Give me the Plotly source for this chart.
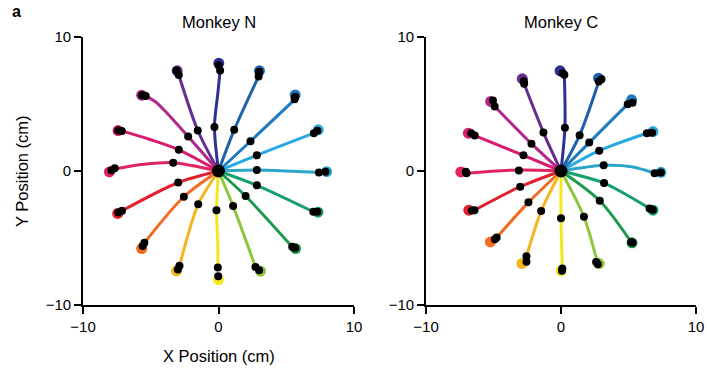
import plotly.graph_objects as go

# Reach directions, counter-clockwise from the +x axis (degrees)
directions = [0, 22.5, 45, 67.5, 90, 112.5, 135, 157.5,
              180, 202.5, 225, 247.5, 270, 292.5, 315, 337.5]

direction_colors = ["#2aa5cc", "#29a9e1", "#1f79bf", "#1d60ab",
                    "#2e3192", "#652d90", "#b1288a", "#d91a6f",
                    "#e0245d", "#e3202f", "#f26b21", "#f5b520",
                    "#f4e71c", "#8dc63f", "#1b9a4e", "#17a06d"]

# ---- Monkey N ----
n_path_x = [
    [0, 2.83, 5.5, 7.41],
    [0, 2.83, 7.04],
    [0, 2.36, 5.62],
    [0, 1.16, 2.96],
    [0, -0.30, -0.05, 0.12],
    [0, -1.53, -2.93],
    [0, -2.24, -3.79, -4.65, -5.37],
    [0, -2.93, -5.0, -7.14],
    [0, -3.34, -5.5, -7.66],
    [0, -2.97, -7.12],
    [0, -2.56, -5.47],
    [0, -1.50, -2.88],
    [0, -0.15, -0.05, -0.05],
    [0, 1.08, 2.73],
    [0, 2.00, 5.44],
    [0, 2.83, 7.00],
]
n_path_y = [
    [0, 0.07, -0.02, -0.12],
    [0, 1.17, 2.82],
    [0, 2.22, 5.33],
    [0, 3.07, 7.06],
    [0, 3.29, 5.8, 7.50],
    [0, 3.02, 7.16],
    [0, 2.57, 4.31, 5.17, 5.59],
    [0, 1.58, 2.33, 2.99],
    [0, 0.62, 0.50, 0.15],
    [0, -0.86, -2.97],
    [0, -1.92, -5.36],
    [0, -2.49, -7.08],
    [0, -2.92, -5.5, -7.20],
    [0, -2.62, -7.16],
    [0, -1.87, -5.66],
    [0, -1.07, -3.04],
]
n_target_x = [7.98, 7.36, 5.66, 3.02, 0.02, -3.05, -5.67, -7.41,
              -8.05, -7.44, -5.67, -3.10, 0.00, 3.10, 5.69, 7.34]
n_target_y = [-0.05, 3.07, 5.68, 7.48, 8.05, 7.48, 5.66, 3.02,
              -0.07, -3.17, -5.79, -7.46, -8.10, -7.48, -5.79, -3.07]
n_mid_x = [2.83, 2.83, 2.36, 1.16, -0.30, -1.53, -2.24, -2.93,
           -3.34, -2.97, -2.56, -1.50, -0.15, 1.08, 2.00, 2.83]
n_mid_y = [0.07, 1.17, 2.22, 3.07, 3.29, 3.02, 2.57, 1.58,
           0.62, -0.86, -1.92, -2.49, -2.92, -2.62, -1.87, -1.07]
n_end_x = [7.41, 7.90, 7.04, 7.30, 5.62, 5.66, 2.96, 3.00, 0.12, 0.00,
           -2.93, -3.10, -5.37, -5.65, -7.14, -7.40, -7.66, -7.90,
           -7.12, -7.40, -5.47, -5.60, -2.88, -3.00, -0.05, -0.02,
           2.73, 3.00, 5.44, 5.65, 7.00, 7.30]
n_end_y = [-0.12, -0.05, 2.82, 3.00, 5.35, 5.55, 7.06, 7.40, 7.50, 7.90,
           7.16, 7.50, 5.59, 5.65, 2.99, 3.02, 0.20, 0.05,
           -2.97, -3.10, -5.36, -5.60, -7.08, -7.35, -7.20, -7.86,
           -7.16, -7.40, -5.66, -5.75, -3.04, -3.05]

# ---- Monkey C ----
c_path_x = [
    [0, 3.16, 5.24, 6.21, 6.93],
    [0, 2.83, 6.36],
    [0, 2.09, 4.94],
    [0, 1.38, 2.80],
    [0, 0.29, 0.25],
    [0, -1.30, -2.73],
    [0, -2.19, -4.91],
    [0, -2.78, -6.39],
    [0, -3.12, -7.00],
    [0, -3.02, -6.41],
    [0, -2.41, -4.77],
    [0, -1.47, -2.56],
    [0, 0.00, 0.10],
    [0, 1.70, 2.73],
    [0, 2.87, 5.20],
    [0, 3.19, 6.56],
]
c_path_y = [
    [0, 0.42, 0.32, 0.07, -0.17],
    [0, 1.52, 2.82],
    [0, 2.12, 4.99],
    [0, 2.67, 6.68],
    [0, 3.22, 7.18],
    [0, 2.87, 6.51],
    [0, 2.04, 4.81],
    [0, 1.17, 2.64],
    [0, 0.08, -0.17],
    [0, -1.17, -2.92],
    [0, -2.34, -4.96],
    [0, -2.99, -6.36],
    [0, -3.52, -7.28],
    [0, -3.42, -6.96],
    [0, -2.22, -5.30],
    [0, -0.90, -2.79],
]
c_target_x = [7.40, 6.81, 5.23, 2.78, -0.07, -2.87, -5.21, -6.86,
              -7.42, -6.83, -5.23, -2.90, 0.00, 2.83, 5.26, 6.81]
c_target_y = [-0.10, 2.94, 5.31, 6.93, 7.48, 6.88, 5.19, 2.82,
              -0.07, -2.92, -5.29, -6.91, -7.46, -6.91, -5.36, -2.92]
c_mid_x = [3.16, 2.83, 2.09, 1.38, 0.29, -1.30, -2.19, -2.78,
           -3.12, -3.02, -2.41, -1.47, 0.00, 1.70, 2.87, 3.19]
c_mid_y = [0.42, 1.52, 2.12, 2.67, 3.22, 2.87, 2.04, 1.17,
           0.04, -1.17, -2.34, -2.99, -3.52, -3.42, -2.22, -0.90]
c_end_x = [6.93, 7.40, 6.36, 6.75, 4.94, 5.30, 2.80, 3.00, 0.25, 0.12,
           -2.73, -2.75, -4.91, -5.04, -6.39, -6.65, -7.00, -7.05,
           -6.41, -6.60, -4.77, -4.90, -2.56, -2.56, 0.10, 0.07,
           2.73, 2.60, 5.20, 5.30, 6.56, 6.80]
c_end_y = [-0.17, -0.12, 2.82, 2.85, 4.99, 5.10, 6.68, 6.85, 7.18, 7.30,
           6.51, 6.70, 4.81, 5.26, 2.64, 2.82, -0.17, -0.05,
           -2.92, -2.95, -4.96, -5.10, -6.36, -6.78, -7.28, -7.45,
           -6.96, -6.80, -5.30, -5.36, -2.79, -2.90]

tick_vals = [-10, 0, 10]
tick_text = ["\u221210", "0", "10"]

FONT = "Liberation Sans, Arial, Helvetica, sans-serif"

fig = go.Figure()


def add_monkey(xa, ya, path_x, path_y, tx, ty, mx, my, ex, ey):
    # colored target circles
    for k in range(len(directions)):
        fig.add_trace(go.Scatter(
            x=[tx[k]], y=[ty[k]], mode="markers", xaxis=xa, yaxis=ya,
            marker=dict(size=11, color=direction_colors[k], line=dict(width=0)),
            hoverinfo="skip", showlegend=False))
    # hand trajectories
    for k in range(len(directions)):
        fig.add_trace(go.Scatter(
            x=path_x[k], y=path_y[k], mode="lines", xaxis=xa, yaxis=ya,
            line=dict(color=direction_colors[k], width=3, shape="spline",
                      smoothing=0.8),
            hoverinfo="skip", showlegend=False))
    # black samples along each reach
    fig.add_trace(go.Scatter(
        x=mx + ex, y=my + ey, mode="markers", xaxis=xa, yaxis=ya,
        marker=dict(size=8, color="black"), hoverinfo="skip", showlegend=False))
    # start position
    fig.add_trace(go.Scatter(
        x=[0], y=[0], mode="markers", xaxis=xa, yaxis=ya,
        marker=dict(size=13, color="black"), hoverinfo="skip", showlegend=False))


add_monkey("x", "y", n_path_x, n_path_y, n_target_x, n_target_y,
           n_mid_x, n_mid_y, n_end_x, n_end_y)
add_monkey("x2", "y2", c_path_x, c_path_y, c_target_x, c_target_y,
           c_mid_x, c_mid_y, c_end_x, c_end_y)

axis_common = dict(
    range=[-10, 10], tickvals=tick_vals, ticktext=tick_text,
    showgrid=False, zeroline=False, showline=True, linecolor="black",
    linewidth=1.6, ticks="outside", ticklen=7, tickwidth=1.6,
    tickcolor="black", tickfont=dict(family=FONT, size=15, color="black"),
    fixedrange=True, automargin=False,
)

y_dom = [1 - 305 / 369, 1 - 37 / 369]
title_font = dict(family=FONT, size=16.5, color="black")
fig.update_layout(
    width=707, height=369,
    margin=dict(l=0, r=0, t=0, b=0, pad=0, autoexpand=False),
    paper_bgcolor="white", plot_bgcolor="white",
    font=dict(family=FONT, color="black"),
    xaxis=dict(domain=[83 / 707, 354 / 707], anchor="y", **axis_common),
    yaxis=dict(domain=y_dom, anchor="x", **axis_common),
    xaxis2=dict(domain=[426 / 707, 696 / 707], anchor="y2", **axis_common),
    yaxis2=dict(domain=y_dom, anchor="x2", **axis_common),
    annotations=[
        dict(text="<b>a</b>", x=10 / 707, y=1 - 12 / 369, xref="paper",
             yref="paper", showarrow=False, xanchor="left", yanchor="middle",
             font=dict(family=FONT, size=16, color="black")),
        dict(text="Monkey N", x=0, y=1 - 22 / 369, xref="x", yref="paper",
             yanchor="middle", xanchor="center", showarrow=False,
             font=title_font),
        dict(text="Monkey C", x=0, y=1 - 22 / 369, xref="x2", yref="paper",
             yanchor="middle", xanchor="center", showarrow=False,
             font=title_font),
        dict(text="X Position (cm)", x=0, xref="x", y=1 - 356 / 369,
             yref="paper", showarrow=False, xanchor="center",
             yanchor="middle", font=title_font),
        dict(text="Y Position (cm)", x=22 / 707, xref="paper", y=0,
             yref="y", textangle=-90, showarrow=False, xanchor="center",
             yanchor="middle", font=title_font),
    ],
)

fig.write_html("out.html")
